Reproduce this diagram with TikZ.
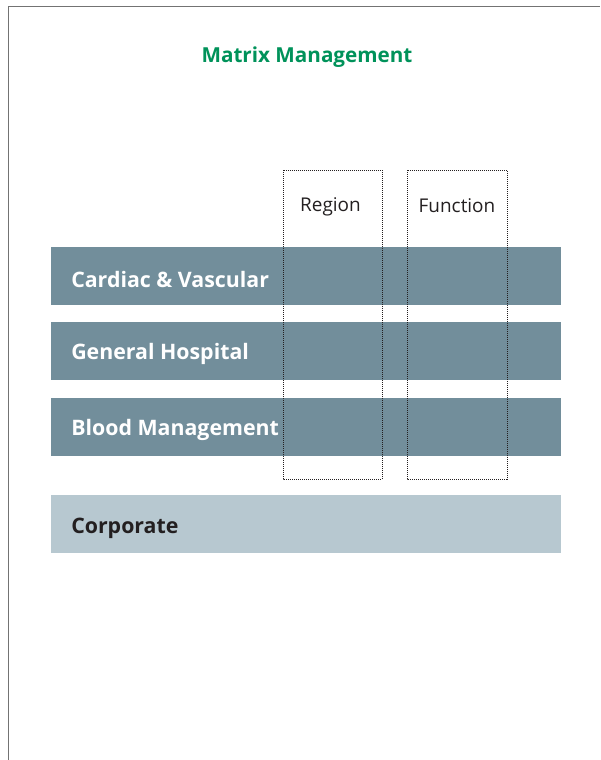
\documentclass[tikz,border=0pt]{standalone}
\usepackage{fontspec}
\setmainfont{Open Sans}
\usetikzlibrary{positioning}
\definecolor{titlegreen}{RGB}{0,146,90}
\definecolor{bardark}{RGB}{114,142,155}
\definecolor{barlight}{RGB}{183,200,208}
\definecolor{inkdark}{RGB}{35,31,32}
\tikzset{
  barlabel/.style={anchor=west, inner sep=0pt, font=\bfseries\fontsize{16}{19}\selectfont},
  dotbox/.style={draw=inkdark, line width=0.6pt, dash pattern=on 0.75pt off 0.75pt},
  colhead/.style={inner sep=0pt, text=inkdark, font=\fontsize{14.2}{17}\selectfont}
}

\begin{document}
\begin{tikzpicture}[x=0.75pt, y=-0.75pt]
			%%%%% START %%%%%
			\useasboundingbox (0, 0) rectangle (600, 760);
			
			\draw[line width=1.1pt, color=black!55] (8.5, 760) -- (8.5, 6.5) -- (600, 6.5);
			
			\node[inner sep=0pt, text=titlegreen, font=\bfseries\fontsize{15.5}{18}\selectfont] (title) at (307, 57) {Matrix Management};
			
			\fill[bardark] (51, 247) rectangle (561, 305);
			\fill[bardark] (51, 322) rectangle (561, 380);
			\fill[bardark] (51, 398) rectangle (561, 456);
			\fill[barlight] (51, 495) rectangle (561, 553);
			
			\node[barlabel, text=white] (cardiac) at (71, 279) {Cardiac \& Vascular};
			\node[barlabel, text=white] (general) at (71, 354) {General Hospital};
			\node[barlabel, text=white] (blood) at (71, 430) {Blood Management};
			\node[barlabel, text=inkdark] (corporate) at (71, 528) {Corporate};
			
			\draw[dotbox] (283, 170) rectangle (382, 479);
			\draw[dotbox] (407, 170) rectangle (507, 479);
			
			\node[colhead] (region) at (330.5, 207) {Region};
			\node[colhead] (function) at (457, 206) {Function};
			
			%%%%% END %%%%%
		\end{tikzpicture}
\end{document}
